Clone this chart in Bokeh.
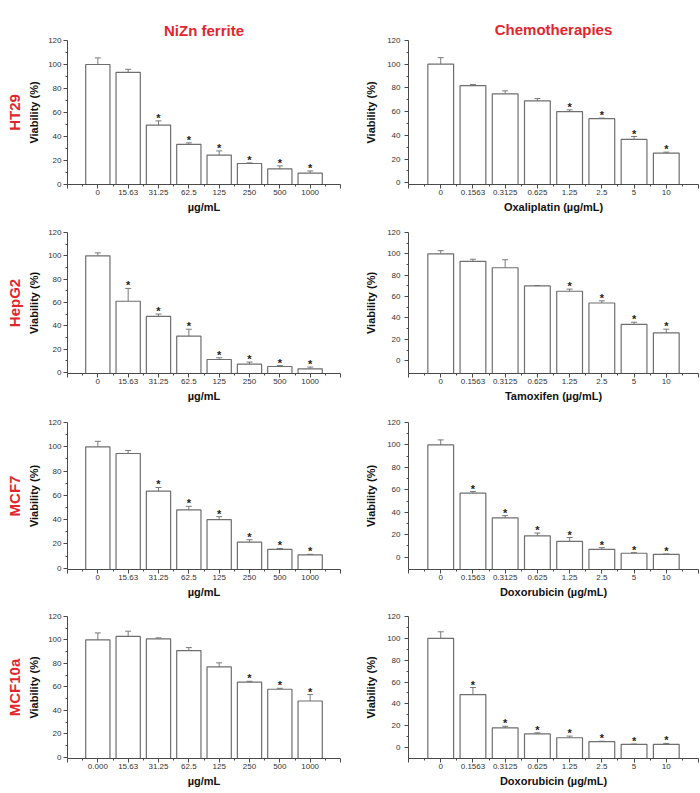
from bokeh.plotting import figure
from bokeh.models import Range1d, FixedTicker, Whisker, ColumnDataSource, Title, TeeHead
from bokeh.layouts import column, row
from bokeh.embed import file_html
from bokeh.resources import INLINE
from bokeh.core.properties import value

# ---------------- data ----------------
nizn_doses = ["0", "15.63", "31.25", "62.5", "125", "250", "500", "1000"]
nizn_doses_mcf10a = ["0.000", "15.63", "31.25", "62.5", "125", "250", "500", "1000"]
chemo_doses = ["0", "0.1563", "0.3125", "0.625", "1.25", "2.5", "5", "10"]

ht29_nizn_mean = [100, 93.5, 49.5, 33.5, 24.5, 17.5, 13, 9.5]
ht29_nizn_err = [5.5, 2.5, 3.5, 1.2, 3.5, 0.5, 2.5, 1.8]
ht29_nizn_star = [0, 0, 1, 1, 1, 1, 1, 1]

ht29_oxa_mean = [100, 82, 75, 69, 60, 54, 36.5, 25]
ht29_oxa_err = [5.5, 0.8, 2.5, 2, 1.5, 0.5, 2.5, 0.8]
ht29_oxa_star = [0, 0, 0, 0, 1, 1, 1, 1]

hepg2_nizn_mean = [100, 61, 48, 31, 11, 7, 5, 3]
hepg2_nizn_err = [2.5, 11, 2, 6, 1.5, 1.8, 0.8, 1.5]
hepg2_nizn_star = [0, 1, 1, 1, 1, 1, 1, 1]

hepg2_tam_mean = [100, 93, 87, 70, 65, 54, 34, 26]
hepg2_tam_err = [3, 2, 7.5, 0.3, 2, 2, 2, 3.5]
hepg2_tam_star = [0, 0, 0, 0, 1, 1, 1, 1]

mcf7_nizn_mean = [100, 94.5, 63.5, 48, 40, 21.5, 15.5, 11]
mcf7_nizn_err = [4.5, 2.5, 3, 3, 2.5, 2, 0.8, 0.5]
mcf7_nizn_star = [0, 0, 1, 1, 1, 1, 1, 1]

mcf7_dox_mean = [100, 57, 35, 19, 14, 7, 3.5, 2.5]
mcf7_dox_err = [4.5, 1.5, 2, 2.5, 3.5, 1.5, 0.5, 0.3]
mcf7_dox_star = [0, 1, 1, 1, 1, 1, 1, 1]

mcf10a_nizn_mean = [100, 103, 101, 91, 77, 64, 58, 48]
mcf10a_nizn_err = [6, 4.5, 0.8, 2.5, 3.5, 0.8, 0.8, 5.5]
mcf10a_nizn_star = [0, 0, 0, 0, 0, 1, 1, 1]

mcf10a_dox_mean = [100, 48.5, 18, 12.5, 9, 5.5, 3, 3]
mcf10a_dox_err = [6, 6.5, 1.5, 1, 1.5, 0.3, 0.2, 0.8]
mcf10a_dox_star = [0, 1, 1, 1, 1, 1, 1, 1]

row_labels = ["HT29", "HepG2", "MCF7", "MCF10a"]
col_titles = ["NiZn ferrite", "Chemotherapies"]

# ---------------- style ----------------
FONT = "Liberation Sans"
RED = "#e0262e"
AXIS = "#4a4a4a"
BAR_LINE = "#6e6e6e"
ERR = "#7a7a7a"

# row heights and per-column (top border, bottom border)
row_heights = [220, 189, 196, 188]
borders = {
    (0, 0): (38, 36), (0, 1): (40, 31),
    (1, 0): (11, 36), (1, 1): (12, 32),
    (2, 0): (10, 36), (2, 1): (13, 33),
    (3, 0): (11, 31), (3, 1): (10, 35),
}


def make_panel(doses, mean, err, star, xlabel, ymin, col, r, row_label=None, title=None):
    h = row_heights[r]
    top, bottom = borders[(r, col)]
    if col == 0:
        w, bl, br = 350, 67, 10
    else:
        w, bl, br = 350, 58, 2
    p = figure(width=w, height=h, output_backend="svg", toolbar_location=None,
               x_range=Range1d(-1, 8), y_range=Range1d(ymin, 120),
               min_border_left=bl, min_border_right=br,
               min_border_top=top, min_border_bottom=bottom)
    p.outline_line_color = None
    p.grid.visible = False
    p.background_fill_color = "white"

    xs = list(range(len(mean)))
    src = ColumnDataSource(dict(x=xs, top=mean, upper=[m + e for m, e in zip(mean, err)],
                                lower=[m - e for m, e in zip(mean, err)]))
    p.vbar(x="x", top="top", bottom=ymin if ymin < 0 else 0, width=0.8, source=src,
           fill_color="white", line_color=BAR_LINE, line_width=1.2)
    wk = Whisker(base="x", upper="upper", lower="lower", source=src,
                 line_color=ERR, line_width=1,
                 upper_head=TeeHead(size=6, line_color=ERR, line_width=1),
                 lower_head=TeeHead(size=6, line_color=ERR, line_width=1))
    p.add_layout(wk)

    sx = [i for i, s in enumerate(star) if s]
    sy = [mean[i] + err[i] for i in sx]
    p.text(x=sx, y=sy, text=["*"] * len(sx), text_font=value(FONT), text_font_size="11px",
           text_font_style="bold", text_align="center", text_baseline="alphabetic",
           y_offset=-3, text_color="#222222")

    # axes
    xt = FixedTicker(ticks=list(range(-1, 9)), minor_ticks=[i + 0.5 for i in range(-1, 8)])
    p.xaxis.ticker = xt
    overrides = {i: d for i, d in enumerate(doses)}
    overrides[-1] = ""
    overrides[8] = ""
    p.xaxis.major_label_overrides = overrides
    p.yaxis.ticker = FixedTicker(ticks=[0, 20, 40, 60, 80, 100, 120],
                                 minor_ticks=[10, 30, 50, 70, 90, 110])
    for ax in (p.xaxis, p.yaxis):
        ax.axis_line_color = AXIS
        ax.major_tick_line_color = AXIS
        ax.minor_tick_line_color = AXIS
        ax.major_tick_out = 4
        ax.major_tick_in = 0
        ax.minor_tick_out = 2
        ax.minor_tick_in = 0
        ax.major_label_text_font = FONT
        ax.major_label_text_font_size = "8px"
        ax.major_label_text_color = "#333333"
        ax.axis_label_text_font = FONT
        ax.axis_label_text_font_style = "bold"
        ax.axis_label_text_color = "#111111"
        ax.axis_label_text_font_size = "11px"
    p.xaxis.major_label_standoff = 1
    p.xaxis.axis_label_standoff = 3
    p.yaxis.major_label_standoff = 2 if col == 0 else 4
    p.yaxis.axis_label_standoff = 5 if col == 0 else 7
    p.xaxis.axis_label = xlabel
    p.yaxis.axis_label = "Viability (%)"

    if title is not None:
        p.title = Title(text=title, align="center", text_color=RED, text_font=FONT,
                        text_font_size="15px", text_font_style="bold",
                        standoff=4 if col == 0 else 6)
    if row_label is not None:
        p.add_layout(Title(text=row_label, align="center", text_color=RED, text_font=FONT,
                           text_font_size="15px", text_font_style="bold", standoff=5), "left")
    return p


p1 = make_panel(nizn_doses, ht29_nizn_mean, ht29_nizn_err, ht29_nizn_star, "µg/mL", 0, 0, 0,
                row_label=row_labels[0], title=col_titles[0])
p2 = make_panel(chemo_doses, ht29_oxa_mean, ht29_oxa_err, ht29_oxa_star, "Oxaliplatin (µg/mL)", -1.5, 1, 0,
                title=col_titles[1])
p3 = make_panel(nizn_doses, hepg2_nizn_mean, hepg2_nizn_err, hepg2_nizn_star, "µg/mL", -1, 0, 1,
                row_label=row_labels[1])
p4 = make_panel(chemo_doses, hepg2_tam_mean, hepg2_tam_err, hepg2_tam_star, "Tamoxifen (µg/mL)", -12, 1, 1)
p5 = make_panel(nizn_doses, mcf7_nizn_mean, mcf7_nizn_err, mcf7_nizn_star, "µg/mL", -1, 0, 2,
                row_label=row_labels[2])
p6 = make_panel(chemo_doses, mcf7_dox_mean, mcf7_dox_err, mcf7_dox_star, "Doxorubicin (µg/mL)", -11, 1, 2)
p7 = make_panel(nizn_doses_mcf10a, mcf10a_nizn_mean, mcf10a_nizn_err, mcf10a_nizn_star, "µg/mL", -1, 0, 3,
                row_label=row_labels[3])
p8 = make_panel(chemo_doses, mcf10a_dox_mean, mcf10a_dox_err, mcf10a_dox_star, "Doxorubicin (µg/mL)", -10, 1, 3)

layout = column(row(p1, p2), row(p3, p4), row(p5, p6), row(p7, p8))

open("out.html", "w").write(file_html(layout, INLINE))
